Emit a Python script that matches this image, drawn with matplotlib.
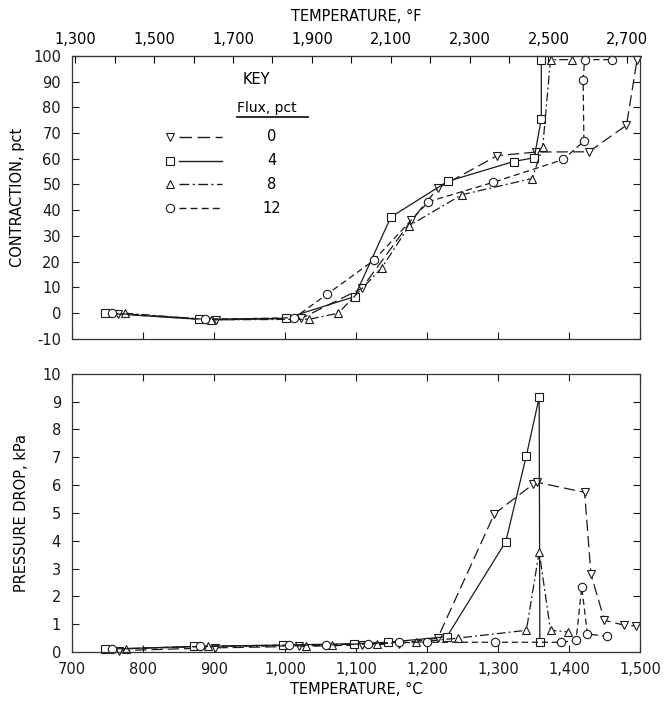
import matplotlib
matplotlib.use("Agg")
import matplotlib.pyplot as plt
from matplotlib.ticker import FuncFormatter, MultipleLocator, FixedLocator

plt.rcParams['font.family'] = ['DejaVu Sans']
plt.rcParams['axes.unicode_minus'] = False

# --- data ---
flux_pct = [0, 4, 8, 12]

# contraction, pct  vs temperature, C
cont_t0 = [765, 902, 1023, 1108, 1178, 1215, 1299, 1354, 1428, 1481, 1496]
cont_0 = [-0.4, -2.6, -2.0, 9.6, 36.0, 48.5, 61.2, 62.6, 62.7, 73.0, 98.5]
cont_t4 = [746, 879, 1001, 1098, 1149, 1229, 1322, 1351, 1361, 1361]
cont_4 = [0.0, -2.4, -2.0, 6.4, 37.3, 51.2, 58.9, 60.4, 75.4, 98.5]
cont_t8 = [774, 895, 1034, 1075, 1136, 1175, 1249, 1348, 1363, 1374, 1404]
cont_8 = [0.0, -2.6, -2.4, 0.0, 17.5, 34.0, 46.0, 52.3, 64.5, 98.5, 98.5]
cont_t12 = [756, 887, 1013, 1059, 1125, 1202, 1293, 1392, 1421, 1420, 1422, 1461]
cont_12 = [0.0, -2.4, -1.8, 7.3, 20.5, 43.3, 50.8, 59.7, 66.8, 90.4, 98.5, 98.5]

# pressure drop, kPa vs temperature, C
pd_t0 = [766, 901, 1019, 1108, 1160, 1215, 1295, 1350, 1355, 1422, 1431, 1450, 1478, 1495]
pd_0 = [0.05, 0.15, 0.2, 0.25, 0.3, 0.5, 4.97, 6.04, 6.1, 5.74, 2.79, 1.14, 0.96, 0.94]
pd_t4 = [746, 871, 997, 1097, 1145, 1228, 1311, 1340, 1358, 1359]
pd_4 = [0.1, 0.2, 0.25, 0.3, 0.35, 0.55, 3.97, 7.06, 9.15, 0.35]
pd_t8 = [776, 891, 1030, 1066, 1130, 1185, 1244, 1340, 1358, 1374, 1399]
pd_8 = [0.12, 0.2, 0.22, 0.25, 0.3, 0.35, 0.5, 0.78, 3.6, 0.78, 0.72]
pd_t12 = [756, 880, 1006, 1058, 1117, 1160, 1200, 1296, 1389, 1410, 1418, 1426, 1453]
pd_12 = [0.1, 0.2, 0.25, 0.25, 0.3, 0.35, 0.35, 0.35, 0.35, 0.42, 2.34, 0.65, 0.56]

fahr_ticks = [1300, 1500, 1700, 1900, 2100, 2300, 2500, 2700]

# styles per flux level
styles = {
    0: dict(marker="v", ls=(0, (9, 4))),
    4: dict(marker="s", ls="-"),
    8: dict(marker="^", ls=(0, (7, 2.5, 1.5, 2.5))),
    12: dict(marker="o", ls=(0, (5, 3))),
}
ink = "#1a1a1a"

cont_series = {0: (cont_t0, cont_0), 4: (cont_t4, cont_4),
               8: (cont_t8, cont_8), 12: (cont_t12, cont_12)}
pd_series = {0: (pd_t0, pd_0), 4: (pd_t4, pd_4),
             8: (pd_t8, pd_8), 12: (pd_t12, pd_12)}

comma = FuncFormatter(lambda v, p: f"{int(v):,}")

fig = plt.figure(figsize=(6.68, 7.06), dpi=100)
ax1 = fig.add_axes([0.108, 0.520, 0.850, 0.401])
ax2 = fig.add_axes([0.108, 0.0765, 0.850, 0.394])

for ax, series in ((ax1, cont_series), (ax2, pd_series)):
    for f in flux_pct:
        t, v = series[f]
        st = styles[f]
        ax.plot(t, v, color=ink, lw=0.9, ls=st["ls"], marker=st["marker"],
                ms=6, mfc="white", mec=ink, mew=0.8, clip_on=False)
    ax.set_xlim(700, 1500)
    ax.xaxis.set_major_locator(MultipleLocator(100))
    ax.tick_params(direction="in", length=5, width=0.8, top=True, right=True,
                   labelsize=10.5, colors=ink)
    ax.tick_params(axis="y", pad=8)
    ax.tick_params(axis="x", pad=7)
    for s in ax.spines.values():
        s.set_linewidth(0.9)
        s.set_color("#333333")

# top panel
ax1.set_ylim(-10, 100)
ax1.yaxis.set_major_locator(MultipleLocator(10))
ax1.tick_params(labelbottom=False, top=False)
ax1.set_ylabel("CONTRACTION, pct", fontsize=10.5, labelpad=6)

secx = ax1.secondary_xaxis("top", functions=(lambda c: c * 1.8 + 32,
                                               lambda f: (f - 32) / 1.8))
secx.xaxis.set_major_locator(FixedLocator(fahr_ticks))
secx.xaxis.set_minor_locator(MultipleLocator(100))
secx.xaxis.set_major_formatter(comma)
secx.tick_params(which="both", direction="in", length=5, width=0.8,
                 labelsize=10.5, pad=6)
secx.set_xlabel("TEMPERATURE, °F", fontsize=10.5, labelpad=8)

# key
ax1.text(0.30, 0.915, "KEY", transform=ax1.transAxes, fontsize=10.5, va="center")
ax1.text(0.29, 0.815, "Flux, pct", transform=ax1.transAxes, fontsize=10, va="center")
ax1.plot([0.29, 0.415], [0.782, 0.782], transform=ax1.transAxes, color=ink, lw=1.3)
for i, f in enumerate(flux_pct):
    yk = 0.714 - i * 0.084
    st = styles[f]
    ax1.plot([0.188, 0.264], [yk, yk], transform=ax1.transAxes, color=ink,
             lw=1.0, ls=st["ls"])
    ax1.plot([0.173], [yk], transform=ax1.transAxes, marker=st["marker"],
             ms=6, mfc="white", mec=ink, mew=0.8, ls="none")
    ax1.text(0.352, yk, str(f), transform=ax1.transAxes, fontsize=10.5,
             ha="center", va="center")

# bottom panel
ax2.set_ylim(0, 10)
ax2.yaxis.set_major_locator(MultipleLocator(1))
ax2.xaxis.set_major_formatter(comma)
ax2.set_ylabel("PRESSURE DROP, kPa", fontsize=10.5, labelpad=10)
ax2.set_xlabel("TEMPERATURE, °C", fontsize=10.5, labelpad=4)

fig.savefig("out.png", dpi=100)
